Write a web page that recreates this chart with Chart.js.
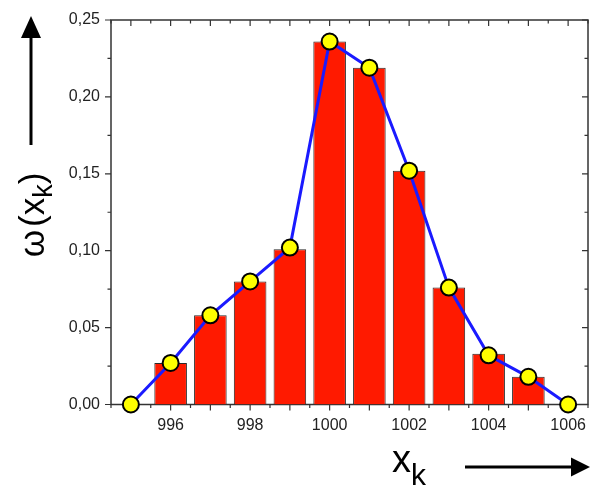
<!DOCTYPE html>
<html>
<head>
<meta charset="utf-8">
<script src="https://cdn.jsdelivr.net/npm/chart.js@4.4.1/dist/chart.umd.min.js"></script>
<style>
  html, body { margin: 0; padding: 0; background: #fff; }
  #wrap { width: 590px; height: 486px; }
</style>
</head>
<body>
<div id="wrap"><canvas id="myChart" width="590" height="486"></canvas></div>
<script>
// values
var barX = [996, 997, 998, 999, 1000, 1001, 1002, 1003, 1004, 1005];
var barY = [0.027, 0.058, 0.080, 0.101, 0.236, 0.219, 0.152, 0.076, 0.033, 0.018];

var lineX = [995, 996, 997, 998, 999, 1000, 1001, 1002, 1003, 1004, 1005, 1006];
var lineY = [0, 0.027, 0.058, 0.080, 0.102, 0.236, 0.219, 0.152, 0.076, 0.032, 0.018, 0];

var xTicks = [996, 998, 1000, 1002, 1004, 1006];
var yTicks = [0, 0.05, 0.10, 0.15, 0.20, 0.25];
var xRange = [994.5, 1006.5];
var yRange = [0, 0.25];

function toPoints(xs, ys) {
  return xs.map(function (x, i) { return { x: x, y: ys[i] }; });
}

var axisColor = "#333";
var fontFam = "'Liberation Sans', Arial, sans-serif";

// frame, minor/major ticks and the arrow titles
var framePlugin = {
  id: "frame",
  beforeDatasetsDraw: function (chart) {
    var c = chart.ctx, a = chart.chartArea;
    var xs = chart.scales.x, ys = chart.scales.y;
    c.save();
    c.strokeStyle = axisColor;
    c.lineWidth = 1.5;
    c.strokeRect(a.left, a.top, a.right - a.left, a.bottom - a.top);
    c.lineWidth = 1.2;
    c.beginPath();
    for (var v = xRange[0]; v <= xRange[1] + 1e-9; v += 0.5) {
      var px = xs.getPixelForValue(v);
      var len = (Math.abs(v - Math.round(v)) < 1e-6) ? 6 : 3.5;
      c.moveTo(px, a.bottom); c.lineTo(px, a.bottom + len);
      c.moveTo(px, a.top); c.lineTo(px, a.top + len);
    }
    for (var w = yRange[0]; w <= yRange[1] + 1e-9; w += 0.025) {
      var py = ys.getPixelForValue(w);
      var major = Math.abs(w / 0.05 - Math.round(w / 0.05)) < 1e-6;
      var l2 = major ? 6 : 3.5;
      c.moveTo(a.left, py); c.lineTo(a.left - l2, py);
      c.moveTo(a.right, py); c.lineTo(a.right - l2, py);
    }
    c.stroke();
    c.restore();
  },
  afterDraw: function (chart) {
    var c = chart.ctx;
    c.save();
    c.fillStyle = "#000";
    c.strokeStyle = "#000";
    c.lineWidth = 3;

    // y title: omega(x_k), rotated
    c.save();
    c.translate(44, 215);
    c.rotate(-Math.PI / 2);
    var big = "35px " + fontFam;
    var small = "27px " + fontFam;
    c.font = big;
    var w0 = c.measureText("\u03c9").width;
    var w1 = c.measureText("(x").width;
    var w3 = c.measureText(")").width;
    c.font = small;
    var w2 = c.measureText("k").width;
    var gap = 3;
    var x0 = -(w0 + gap + w1 + w2 + w3) / 2;
    c.textBaseline = "alphabetic";
    c.font = big;
    c.fillText("\u03c9", x0, 0);
    c.fillText("(x", x0 + w0 + gap, 0);
    c.font = small;
    c.fillText("k", x0 + w0 + gap + w1, 8);
    c.font = big;
    c.fillText(")", x0 + w0 + gap + w1 + w2, 0);
    c.restore();

    // y arrow
    c.beginPath();
    c.moveTo(31, 145); c.lineTo(31, 34);
    c.stroke();
    c.beginPath();
    c.moveTo(21, 38); c.lineTo(41, 38); c.lineTo(31, 16); c.closePath();
    c.fill();

    // x title: x_k
    c.font = "38px " + fontFam;
    c.fillText("x", 392, 472);
    var wx = c.measureText("x").width;
    c.font = "30px " + fontFam;
    c.fillText("k", 392 + wx, 485);

    // x arrow
    c.beginPath();
    c.moveTo(465, 467); c.lineTo(574, 467);
    c.stroke();
    c.beginPath();
    c.moveTo(571, 457.5); c.lineTo(571, 476.5); c.lineTo(590, 467); c.closePath();
    c.fill();
    c.restore();
  }
};

var ctx = document.getElementById("myChart");
var myChart = new Chart(ctx, {
  type: "bar",
  data: {
    datasets: [
      {
        type: "line",
        data: toPoints(lineX, lineY),
        borderColor: "#1a1aff",
        borderWidth: 3,
        tension: 0,
        pointRadius: 8,
        pointBackgroundColor: "#ffff00",
        pointBorderColor: "#000",
        pointBorderWidth: 2,
        clip: false,
        order: 0
      },
      {
        type: "bar",
        data: toPoints(barX, barY),
        backgroundColor: "#ff1a00",
        borderColor: "#2a2a2a",
        borderWidth: 1,
        barPercentage: 0.82,
        categoryPercentage: 1,
        order: 1
      }
    ]
  },
  options: {
    responsive: false,
    animation: false,
    layout: { autoPadding: false, padding: { top: 20, right: 2, left: 0, bottom: 0 } },
    plugins: { legend: { display: false }, tooltip: { enabled: false } },
    scales: {
      x: {
        type: "linear",
        offset: false,
        min: xRange[0],
        max: xRange[1],
        // grid hidden; tickLength only spaces the labels (ticks are drawn by the plugin)
        grid: { display: false, drawTicks: true, tickLength: 11 },
        border: { display: false },
        ticks: {
          color: "#222",
          font: { family: fontFam, size: 16 },
          padding: 0,
          maxRotation: 0,
          autoSkip: false,
          callback: function (v) { return String(v); }
        },
        afterBuildTicks: function (s) {
          s.ticks = xTicks.map(function (v) { return { value: v }; });
        },
        afterFit: function (s) { s.height = 81.5; }
      },
      y: {
        min: yRange[0],
        max: yRange[1],
        grid: { display: false, drawTicks: true, tickLength: 11 },
        border: { display: false },
        ticks: {
          color: "#222",
          font: { family: fontFam, size: 16 },
          padding: 0,
          callback: function (v) { return v.toFixed(2).replace(".", ","); }
        },
        afterBuildTicks: function (s) {
          s.ticks = yTicks.map(function (v) { return { value: v }; });
        },
        afterFit: function (s) { s.width = 111; }
      }
    }
  },
  plugins: [framePlugin]
});
</script>
</body>
</html>
